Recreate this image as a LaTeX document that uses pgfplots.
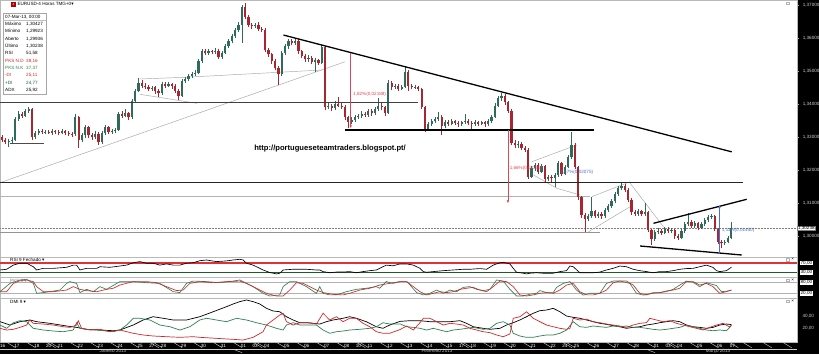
\documentclass[border=0pt]{standalone}
\usepackage{pgfplots}
\pgfplotsset{compat=1.18}
\usepackage{pgfplotstable}
\usepackage{fontspec}
\setmainfont{Liberation Sans}
\newfontfamily\dejavu{DejaVu Sans}
\usetikzlibrary{arrows.meta}
\definecolor{upc}{HTML}{2E6B5A}
\definecolor{dnc}{HTML}{A8262F}
\definecolor{rsired}{HTML}{E0303A}
\definecolor{dkgreen}{HTML}{1F5A2A}
\definecolor{stred}{HTML}{D0282E}
\definecolor{stgreen}{HTML}{2E8050}
\definecolor{arrred}{HTML}{D8485A}
\definecolor{arrblue}{HTML}{4A6FD0}
\newcommand{\ft}{\fontsize{4.6}{5}\selectfont}

\pgfplotstableread{
x o h l c
-2 1.3300 1.3306 1.3284 1.3290
-1 1.3290 1.3297 1.3278 1.3285
0 1.3285 1.3294 1.3270 1.3288
1 1.3288 1.3299 1.3282 1.3292
2 1.3292 1.3361 1.3288 1.3355
3 1.3355 1.3378 1.3348 1.3370
4 1.3370 1.3376 1.3358 1.3365
5 1.3365 1.3384 1.3360 1.3378
6 1.3378 1.3391 1.3372 1.3385
7 1.3385 1.3388 1.3291 1.3300
8 1.3300 1.3318 1.3294 1.3312
9 1.3312 1.3324 1.3306 1.3318
10 1.3318 1.3323 1.3308 1.3314
11 1.3314 1.3321 1.3309 1.3316
12 1.3316 1.3320 1.3310 1.3313
13 1.3313 1.3325 1.3307 1.3318
14 1.3318 1.3322 1.3309 1.3316
15 1.3316 1.3320 1.3305 1.3312
16 1.3312 1.3324 1.3308 1.3317
17 1.3317 1.3321 1.3306 1.3313
18 1.3313 1.3318 1.3303 1.3310
19 1.3310 1.3316 1.3300 1.3308
20 1.3308 1.3370 1.3304 1.3360
21 1.3360 1.3364 1.3267 1.3290
22 1.3290 1.3312 1.3284 1.3305
23 1.3305 1.3337 1.3298 1.3330
24 1.3330 1.3334 1.3297 1.3305
25 1.3305 1.3311 1.3292 1.3300
26 1.3300 1.3318 1.3293 1.3310
27 1.3310 1.3314 1.3276 1.3285
28 1.3285 1.3318 1.3280 1.3312
29 1.3312 1.3336 1.3306 1.3330
30 1.3330 1.3334 1.3308 1.3315
31 1.3315 1.3325 1.3310 1.3318
32 1.3318 1.3328 1.3312 1.3322
33 1.3322 1.3376 1.3318 1.3370
34 1.3370 1.3378 1.3358 1.3365
35 1.3365 1.3385 1.3360 1.3372
36 1.3372 1.3376 1.3352 1.3360
37 1.3360 1.3415 1.3355 1.3410
38 1.3410 1.3446 1.3404 1.3440
39 1.3440 1.3479 1.3435 1.3465
40 1.3465 1.3472 1.3448 1.3455
41 1.3455 1.3463 1.3444 1.3452
42 1.3452 1.3458 1.3438 1.3445
43 1.3445 1.3455 1.3440 1.3450
44 1.3450 1.3456 1.3430 1.3438
45 1.3438 1.3444 1.3422 1.3432
46 1.3432 1.3468 1.3428 1.3462
47 1.3462 1.3467 1.3449 1.3456
48 1.3456 1.3466 1.3450 1.3460
49 1.3460 1.3464 1.3446 1.3455
50 1.3455 1.3460 1.3434 1.3440
51 1.3440 1.3444 1.3412 1.3425
52 1.3425 1.3476 1.3420 1.3470
53 1.3470 1.3482 1.3463 1.3475
54 1.3475 1.3492 1.3470 1.3485
55 1.3485 1.3496 1.3479 1.3490
56 1.3490 1.3502 1.3486 1.3495
57 1.3495 1.3536 1.3490 1.3530
58 1.3530 1.3568 1.3524 1.3560
59 1.3560 1.3566 1.3548 1.3555
60 1.3555 1.3567 1.3549 1.3560
61 1.3560 1.3565 1.3551 1.3558
62 1.3558 1.3570 1.3552 1.3562
63 1.3562 1.3566 1.3536 1.3542
64 1.3542 1.3560 1.3537 1.3555
65 1.3555 1.3582 1.3550 1.3575
66 1.3575 1.3596 1.3570 1.3590
67 1.3590 1.3611 1.3584 1.3605
68 1.3605 1.3630 1.3600 1.3624
69 1.3624 1.3648 1.3618 1.3640
70 1.3640 1.3700 1.3585 1.3694
71 1.3694 1.3706 1.3658 1.3664
72 1.3664 1.3670 1.3634 1.3640
73 1.3640 1.3646 1.3628 1.3635
74 1.3635 1.3645 1.3630 1.3640
75 1.3640 1.3648 1.3622 1.3628
76 1.3628 1.3634 1.3618 1.3625
77 1.3625 1.3630 1.3558 1.3565
78 1.3565 1.3570 1.3543 1.3550
79 1.3550 1.3556 1.3522 1.3530
80 1.3530 1.3535 1.3502 1.3510
81 1.3510 1.3514 1.3458 1.3490
82 1.3490 1.3561 1.3485 1.3555
83 1.3555 1.3582 1.3549 1.3575
84 1.3575 1.3597 1.3568 1.3590
85 1.3590 1.3596 1.3578 1.3585
86 1.3585 1.3600 1.3580 1.3592
87 1.3592 1.3596 1.3553 1.3560
88 1.3560 1.3565 1.3538 1.3545
89 1.3545 1.3550 1.3527 1.3535
90 1.3535 1.3547 1.3528 1.3540
91 1.3540 1.3545 1.3520 1.3528
92 1.3528 1.3538 1.3497 1.3532
93 1.3532 1.3537 1.3518 1.3525
94 1.3525 1.3580 1.3520 1.3572
95 1.3572 1.3575 1.3383 1.3390
96 1.3390 1.3403 1.3384 1.3395
97 1.3395 1.3400 1.3380 1.3388
98 1.3388 1.3408 1.3382 1.3400
99 1.3400 1.3421 1.3390 1.3395
100 1.3395 1.3404 1.3385 1.3392
101 1.3392 1.3396 1.3352 1.3360
102 1.3360 1.3364 1.3327 1.3345
103 1.3345 1.3360 1.3338 1.3352
104 1.3352 1.3367 1.3346 1.3360
105 1.3360 1.3370 1.3356 1.3365
106 1.3365 1.3378 1.3358 1.3370
107 1.3370 1.3377 1.3360 1.3366
108 1.3366 1.3386 1.3360 1.3378
109 1.3378 1.3384 1.3365 1.3372
110 1.3372 1.3392 1.3368 1.3385
111 1.3385 1.3418 1.3380 1.3395
112 1.3395 1.3402 1.3383 1.3390
113 1.3390 1.3394 1.3365 1.3373
114 1.3373 1.3473 1.3370 1.3464
115 1.3464 1.3469 1.3443 1.3450
116 1.3450 1.3462 1.3444 1.3456
117 1.3456 1.3460 1.3440 1.3446
118 1.3446 1.3459 1.3441 1.3452
119 1.3452 1.3515 1.3448 1.3498
120 1.3498 1.3502 1.3440 1.3455
121 1.3455 1.3461 1.3444 1.3450
122 1.3450 1.3458 1.3445 1.3452
123 1.3452 1.3456 1.3438 1.3444
124 1.3444 1.3448 1.3384 1.3390
125 1.3390 1.3394 1.3315 1.3325
126 1.3325 1.3346 1.3320 1.3340
127 1.3340 1.3355 1.3334 1.3348
128 1.3348 1.3362 1.3342 1.3355
129 1.3355 1.3376 1.3350 1.3362
130 1.3362 1.3366 1.3306 1.3332
131 1.3332 1.3351 1.3326 1.3345
132 1.3345 1.3352 1.3334 1.3340
133 1.3340 1.3354 1.3335 1.3347
134 1.3347 1.3352 1.3336 1.3342
135 1.3342 1.3348 1.3331 1.3338
136 1.3338 1.3349 1.3334 1.3344
137 1.3344 1.3370 1.3339 1.3350
138 1.3350 1.3355 1.3335 1.3341
139 1.3341 1.3347 1.3321 1.3338
140 1.3338 1.3352 1.3332 1.3346
141 1.3346 1.3350 1.3333 1.3340
142 1.3340 1.3350 1.3335 1.3344
143 1.3344 1.3349 1.3330 1.3338
144 1.3338 1.3355 1.3333 1.3348
145 1.3348 1.3368 1.3343 1.3362
146 1.3362 1.3402 1.3357 1.3395
147 1.3395 1.3425 1.3390 1.3418
148 1.3418 1.3433 1.3410 1.3425
149 1.3425 1.3430 1.3398 1.3405
150 1.3405 1.3410 1.3372 1.3380
151 1.3380 1.3384 1.3276 1.3283
152 1.3283 1.3290 1.3268 1.3275
153 1.3275 1.3287 1.3268 1.3280
154 1.3280 1.3285 1.3261 1.3268
155 1.3268 1.3273 1.3255 1.3262
156 1.3262 1.3266 1.3174 1.3180
157 1.3180 1.3212 1.3175 1.3205
158 1.3205 1.3221 1.3198 1.3215
159 1.3215 1.3220 1.3188 1.3195
160 1.3195 1.3218 1.3190 1.3212
161 1.3212 1.3216 1.3165 1.3172
162 1.3172 1.3186 1.3166 1.3180
163 1.3180 1.3185 1.3160 1.3176
164 1.3176 1.3190 1.3148 1.3184
165 1.3184 1.3228 1.3180 1.3221
166 1.3221 1.3225 1.3182 1.3188
167 1.3188 1.3216 1.3184 1.3210
168 1.3210 1.3246 1.3205 1.3239
169 1.3239 1.3315 1.3234 1.3276
170 1.3276 1.3282 1.3202 1.3209
171 1.3209 1.3213 1.3110 1.3118
172 1.3118 1.3122 1.3056 1.3064
173 1.3064 1.3070 1.3012 1.3052
174 1.3052 1.3068 1.3045 1.3060
175 1.3060 1.3118 1.3055 1.3075
176 1.3075 1.3080 1.3055 1.3062
177 1.3062 1.3074 1.3056 1.3068
178 1.3068 1.3073 1.3052 1.3060
179 1.3060 1.3084 1.3055 1.3078
180 1.3078 1.3098 1.3072 1.3092
181 1.3092 1.3112 1.3086 1.3105
182 1.3105 1.3134 1.3100 1.3128
183 1.3128 1.3152 1.3122 1.3145
184 1.3145 1.3161 1.3140 1.3152
185 1.3152 1.3158 1.3133 1.3140
186 1.3140 1.3144 1.3103 1.3110
187 1.3110 1.3115 1.3065 1.3072
188 1.3072 1.3078 1.3060 1.3068
189 1.3068 1.3082 1.3062 1.3075
190 1.3075 1.3080 1.3060 1.3066
191 1.3066 1.3100 1.3062 1.3072
192 1.3072 1.3076 1.3012 1.3018
193 1.3018 1.3022 1.2973 1.2990
194 1.2990 1.3018 1.2985 1.3012
195 1.3012 1.3023 1.3006 1.3016
196 1.3016 1.3021 1.3003 1.3010
197 1.3010 1.3028 1.3005 1.3022
198 1.3022 1.3026 1.3009 1.3014
199 1.3014 1.3024 1.3008 1.3018
200 1.3018 1.3022 1.2992 1.3000
201 1.3000 1.3005 1.2988 1.2995
202 1.2995 1.3021 1.2990 1.3015
203 1.3015 1.3041 1.3010 1.3035
204 1.3035 1.3070 1.3030 1.3042
205 1.3042 1.3047 1.3024 1.3030
206 1.3030 1.3044 1.3024 1.3038
207 1.3038 1.3042 1.3018 1.3025
208 1.3025 1.3041 1.3020 1.3035
209 1.3035 1.3055 1.3030 1.3048
210 1.3048 1.3064 1.3043 1.3058
211 1.3058 1.3066 1.3052 1.3062
212 1.3062 1.3065 1.3014 1.3020
213 1.3020 1.3024 1.2975 1.2982
214 1.2982 1.2987 1.2964 1.2978
215 1.2978 1.2988 1.2972 1.2982
216 1.2982 1.3000 1.2978 1.2994
217 1.29936 1.30427 1.29923 1.30238
}\candles

\pgfplotsset{
  panel/.style={at={(0pt,#1pt)}, anchor=north west, scale only axis, width=797pt,
    xmin=-2.6, xmax=236.7, xtick=\empty,
    axis line style={draw=gray!55, line width=0.4pt},
    ytick pos=right, yticklabel pos=right,
    clip mode=individual},
}

\begin{document}
\begin{tikzpicture}[x=1pt,y=1pt]
\fill[white] (0,0) rectangle (819,354);
\fill[black] (0,0) rectangle (819,11.5);
\fill[black] (797,0) rectangle (819,354);
\useasboundingbox (0,0) rectangle (819,354);

% ---------------- price panel ----------------
\begin{axis}[panel=354, height=257.5pt,
  ymin=1.293485, ymax=1.371515,
  ytick={1.30,1.31,1.32,1.33,1.34,1.35,1.36,1.37},
  yticklabels={{1,30000},{1,31000},{1,32000},{1,33000},{1,34000},{1,35000},{1,36000},{1,37000}},
  minor y tick num=4, tick align=outside, major tick length=2pt, minor tick length=1.2pt,
  every tick/.style={draw=gray!70, line width=0.3pt},
  yticklabel style={font=\ft, text=gray!35, xshift=0.3pt}]
% light lines behind candles
\addplot[gray!65, line width=0.5pt] coordinates {(-2.6,1.31615) (101,1.3528)};
\addplot[gray!60, line width=0.5pt] coordinates {(-2.6,1.3119) (174.6,1.3119)};
\addplot[gray!85, line width=0.6pt] coordinates {(-2.6,1.3010) (177.6,1.3010)};
\addplot[gray, densely dotted, line width=0.5pt] coordinates {(-2.6,1.30238) (236.7,1.30238)};
\addplot[black!70, line width=0.5pt] coordinates {(0.5,1.3281) (10.5,1.3281)};
\addplot[gray!70, line width=0.45pt] coordinates {(39.4,1.34758) (52.9,1.34809)};
\addplot[gray!70, line width=0.45pt] coordinates {(39.4,1.34294) (56.5,1.34021)};
\addplot[gray!70, line width=0.45pt] coordinates {(52.9,1.34809) (94.0,1.35030)};
\addplot[gray!70, line width=0.45pt] coordinates {(157.1,1.32252) (170.6,1.32758)};
\addplot[gray!70, line width=0.45pt] coordinates {(157.6,1.31848) (164.6,1.31445) (171.6,1.31242)};
\addplot[gray!70, line width=0.45pt] coordinates {(174.1,1.30130) (186.6,1.30888)};
\addplot[gray!70, line width=0.45pt] coordinates {(175.1,1.31191) (186.6,1.31645)};
\addplot[gray!70, line width=0.45pt] coordinates {(186.6,1.31597) (196.6,1.30282)};
% candles
\addplot[dnc, line width=0.6pt, quiver={u=0,v=\thisrow{h}-\thisrow{l}},
  restrict expr to domain={\thisrow{c}-\thisrow{o}}{-1:0}] table[x=x,y=l]{\candles};
\addplot[upc, line width=0.6pt, quiver={u=0,v=\thisrow{h}-\thisrow{l}},
  restrict expr to domain={\thisrow{c}-\thisrow{o}}{0:1}] table[x=x,y=l]{\candles};
\addplot[dnc, line width=2.2pt, quiver={u=0,v=\thisrow{o}-\thisrow{c}},
  restrict expr to domain={\thisrow{c}-\thisrow{o}}{-1:0}] table[x=x,y=c]{\candles};
\addplot[upc, line width=2.2pt, quiver={u=0,v=\thisrow{c}-\thisrow{o}},
  restrict expr to domain={\thisrow{c}-\thisrow{o}}{0:1}] table[x=x,y=o]{\candles};
% heavy lines
\addplot[black!75, line width=0.7pt] coordinates {(-2.6,1.3404) (123,1.3404)};
\addplot[black, line width=1.3pt] coordinates {(82.5,1.3609) (217.1,1.3255)};
\addplot[black, line width=1.2pt] coordinates {(101,1.3321) (175.6,1.3321)};
\addplot[black!85, line width=1.2pt] coordinates {(-2.6,1.3162) (220.5,1.3162)};
\addplot[black, line width=1.3pt] coordinates {(193.6,1.30385) (221.6,1.31112)};
\addplot[black, line width=1.3pt] coordinates {(189.6,1.29697) (220.1,1.29424)};
% arrows
\addplot[arrred, line width=0.8pt, -{Latex[length=3pt,width=2.6pt]}] coordinates {(102.7,1.35536) (102.7,1.33264)};
\addplot[arrred, line width=0.8pt, -{Latex[length=3pt,width=2.6pt]}] coordinates {(149.9,1.33212) (149.9,1.30991)};
\addplot[arrblue, line width=0.8pt, -{Latex[length=3pt,width=2.6pt]}] coordinates {(213.4,1.29476) (213.4,1.30939)};
\node[anchor=west, font=\ft, text=arrred, inner sep=0pt] at (axis cs:103.4,1.3430) {1,82\%(0,02188)};
\node[anchor=west, font=\ft, text=arrred, inner sep=0pt] at (axis cs:150.4,1.3206) {1,66\%(0,02209)};
\node[anchor=west, font=\ft, text=arrblue, inner sep=0pt] at (axis cs:165.6,1.3192) {1,57\%(0,02075)};
\node[anchor=west, font=\ft, text=arrblue, inner sep=0pt] at (axis cs:214.1,1.3016) {1,11\%(0,01450)};
\node[font=\fontsize{7.6}{8}\selectfont\bfseries, inner sep=0pt] at (axis cs:96.5,1.3264) {http://portugueseteamtraders.blogspot.pt/};
\node[anchor=west, fill=white, draw=gray, font=\ft, text=black, inner sep=0.5pt] at (axis cs:236.8,1.30238) {1,30238};
\end{axis}

% ---------------- RSI ----------------
\begin{axis}[panel=96.5, height=20pt, ymin=7.6, ymax=93.7,
  ytick={30,70}, yticklabels={{30,00},{70,00}}, major tick length=0pt,
  yticklabel style={font=\ft, fill=white, text=black, inner sep=0.4pt, xshift=3pt}]
\addplot[rsired, line width=1.1pt] coordinates {(-2.6,70) (236.7,70)};
\addplot[dkgreen, line width=1pt] coordinates {(-2.6,30) (236.7,30)};
\addplot[black, line width=0.65pt] coordinates {(-2.6,40) (-0.6,43) (1.4,61) (3.4,69) (5.4,69) (7.4,54) (8.4,40) (10.4,47) (13.4,47) (17.4,51.5) (19.4,61) (20.4,61) (21.4,40) (23.4,47) (26.4,47) (27.4,54) (30.4,51.5) (33.4,57) (35.4,61) (37.4,71) (39.4,76) (41.4,69) (43.4,69) (45.4,61) (47.4,66) (49.4,61) (51.4,61) (53.4,69) (55.4,71) (57.4,80) (59.4,83) (62.4,76) (65.4,79) (67.4,83) (69.4,86) (70.4,83) (71.4,69) (73.4,61) (76.4,40) (78.4,29) (80.4,23) (81.4,26) (82.4,40) (85.4,43) (87.4,43) (89.4,43) (92.4,40) (93.4,40) (94.4,33) (96.4,28) (98.4,31) (100.4,31) (102.4,33) (104.4,28) (106.4,33) (108.4,37) (110.4,40) (112.4,54) (113.4,61) (115.4,58) (117.5,66) (119.5,66) (121.5,61) (123.5,47) (124.5,33) (125.5,30) (127.5,33) (130.5,37) (133.5,40) (136.5,43) (138.5,43) (141.5,46) (143.5,43) (145.5,61) (147.5,71) (148.5,73) (150.5,66) (151.5,47) (152.5,30) (154.5,26) (155.5,23) (156.5,26) (158.5,28) (160.5,26) (163.5,26) (165.5,33) (167.5,37) (168.5,57) (169.5,54) (171.5,28) (173.5,28) (175.5,28) (177.5,31) (179.5,40) (181.5,47) (183.5,57) (185.5,54) (187.5,43) (189.5,37) (191.5,33) (193.5,28) (195.5,33) (197.5,33) (199.5,37) (201.5,43) (203.5,46) (205.5,47) (207.5,54) (209.5,61) (211.5,51) (212.5,37) (213.5,33) (215.5,37) (216.5,47) (217,51.6)};
\end{axis}

% ---------------- Stochastic ----------------
\begin{axis}[panel=76.5, height=20.8pt, ymin=-7.8, ymax=107.8,
  ytick={20,80}, yticklabels={{20,00},{80,00}}, major tick length=0pt,
  yticklabel style={font=\ft, fill=white, text=black, inner sep=0.4pt, xshift=3pt}]
\addplot[gray!60, line width=0.5pt] coordinates {(-2.6,80) (236.7,80)};
\addplot[gray!60, line width=0.5pt] coordinates {(-2.6,20) (236.7,20)};
\addplot[stgreen, line width=0.65pt] coordinates {(-2.6,29) (0.4,75) (3.4,94) (5.4,98) (7.4,75) (8.4,20) (10.4,24) (15.4,38) (17.4,75) (18.4,85) (20.4,75) (21.4,24) (23.4,42) (25.4,29) (27.4,57) (29.4,42) (33.4,85) (37.4,85) (41.4,79) (45.4,75) (49.4,29) (51.4,24) (53.4,75) (55.4,88) (59.4,85) (63.4,79) (67.4,88) (69.4,94) (73.4,57) (76.4,20) (78.4,5) (81.4,11) (82.4,57) (84.4,85) (86.4,85) (89.4,57) (92.4,20) (93.4,57) (94.4,20) (96.4,11) (98.4,11) (101.4,29) (104.4,42) (107.4,48) (110.4,57) (111.4,48) (113.4,85) (115.4,75) (117.5,85) (119.5,85) (120.5,66) (122.5,24) (124.5,11) (126.5,20) (128.5,38) (130.5,20) (132.5,38) (134.5,29) (136.5,53) (138.5,57) (140.5,42) (142.5,35) (144.5,42) (146.5,94) (148.5,88) (150.5,42) (152.5,5) (154.5,5) (156.5,15) (158.5,20) (159.5,35) (161.5,24) (163.5,24) (164.5,53) (166.5,75) (168.5,85) (170.5,38) (172.5,10) (174.5,20) (177.5,20) (179.5,75) (181.5,88) (183.5,88) (186.5,75) (188.5,20) (190.5,10) (193.5,20) (195.5,24) (197.5,29) (199.5,42) (201.5,66) (203.5,88) (205.5,81) (207.5,57) (209.5,79) (212.5,63) (214,29) (216,33) (217,37.4)};
\addplot[stred, line width=0.65pt] coordinates {(-2.6,29) (-0.6,29) (1.4,75) (3.4,90) (5.4,94) (7.4,85) (8.4,57) (10.4,29) (13.4,29) (17.4,38) (19.4,57) (21.4,42) (23.4,35) (26.4,29) (29.4,42) (31.4,48) (33.4,66) (37.4,85) (41.4,85) (44.4,79) (47.4,57) (50.4,35) (52.4,38) (54.4,75) (57.4,85) (61.4,79) (65.4,85) (69.4,88) (71.4,75) (74.4,48) (77.4,20) (80.4,5) (82.4,5) (84.4,38) (86.4,79) (88.4,75) (90.4,57) (92.4,38) (94.4,24) (97.4,14) (100.4,11) (102.4,20) (105.4,38) (108.4,48) (111.4,66) (114.4,75) (117.5,85) (119.5,85) (121.5,57) (123.5,29) (125.5,11) (127.5,20) (129.5,29) (131.5,24) (133.5,29) (135.5,42) (137.5,48) (139.5,53) (141.5,38) (143.5,29) (145.5,57) (147.5,88) (149.5,85) (151.5,57) (153.5,11) (155.5,5) (157.5,11) (159.5,20) (161.5,24) (163.5,20) (165.5,38) (167.5,66) (169.5,75) (171.5,29) (173.5,11) (175.5,11) (177.5,20) (179.5,38) (181.5,79) (183.5,88) (185.5,88) (187.5,66) (189.5,20) (191.5,11) (193.5,24) (195.5,24) (197.5,33) (199.5,38) (201.5,48) (203.5,85) (205.5,85) (207.5,66) (209.5,75) (211.5,57) (213.5,20) (215.5,29) (217,38.2)};
\end{axis}

% ---------------- DMI ----------------
\begin{axis}[panel=55.7, height=44.2pt, ymin=-2.5, ymax=67.6,
  ytick={20,40}, yticklabels={{20,00},{40,00}}, major tick length=0pt,
  yticklabel style={font=\ft, text=gray!40, xshift=2pt},
  xtick={-1.8,2.5,8.5,12,15.5,21.5,27.5,33.5,39.5,43,46.5,52.5,58.5,64.5,70.5,74,77.5,83.5,89.5,95.5,101.5,105,108.5,114.5,120.5,126.5,132.5,136,139.5,145.5,151.5,157.5,163.5,167,170.5,176.5,182.5,188.5,194.5,198,201.5,207.5,213.5,217.3},
  xticklabels={16,17,18,20,21,22,23,24,25,27,28,29,30,31,01,03,04,05,06,07,08,10,11,12,13,14,15,17,18,19,20,21,22,24,25,26,27,28,01,03,04,05,06,07},
  xtick style={draw=none},
  xticklabel style={font=\ft, text=white, anchor=center, yshift=-3.6pt, inner sep=0pt}]
\addplot[black, line width=0.7pt] coordinates {(-2.6,30.5) (0.4,25.2) (3.4,30.5) (6.4,33.2) (8.4,30.5) (12.4,27.9) (17.4,23.7) (20.4,21.5) (23.4,18.4) (27.4,17.3) (31.4,16.2) (33.4,17.3) (37.4,25.2) (40.4,33.2) (43.4,38.4) (46.4,35.9) (49.4,33.2) (53.4,33.2) (57.4,38.4) (61.4,46.3) (65.4,54.3) (67.4,58.6) (69.4,62.3) (71.4,64.9) (73.4,62.3) (75.4,58.6) (77.4,51.7) (79.4,47.5) (81.4,46.3) (83.4,38.4) (85.4,33.2) (87.4,28.9) (89.4,28.9) (91.4,27.9) (93.4,26.8) (95.4,30.5) (97.4,33.2) (100.4,35.9) (102.4,38.4) (104.4,35.9) (107.4,30.5) (110.4,22.5) (112.4,20) (114.4,25.2) (117.5,31) (120.5,32.1) (123.5,32.1) (126.5,30.5) (129.5,30.5) (132.5,30.5) (135.5,32.1) (137.5,27.9) (139.5,22.5) (142.5,20) (144.5,18.4) (147.5,20) (149.5,25.2) (151.5,28.9) (153.5,33.2) (155.5,38.4) (157.5,43.8) (159.5,48) (161.5,49) (163.5,51.7) (165.5,46.3) (167.5,39.5) (169.5,37.4) (171.5,35.9) (173.5,33.2) (175.5,30.5) (177.5,27.9) (179.5,26.3) (181.5,24.2) (183.5,22.5) (185.5,20) (187.5,21.5) (189.5,22.5) (191.5,25.2) (193.5,26.8) (195.5,28.9) (197.5,30.5) (199.5,32.1) (201.5,30.5) (203.5,25.2) (205.5,22.5) (207.5,21.5) (209.5,20) (211.5,21.5) (213.5,25.2) (215.5,26.8) (217,25.9)};
\addplot[stgreen, line width=0.7pt] coordinates {(-2.6,25.2) (-0.6,20) (1.4,28.9) (3.4,32.1) (5.4,30.5) (7.4,20) (10.4,17.3) (13.4,15.7) (16.4,14.6) (19.4,17.3) (20.4,28.9) (21.4,20) (23.4,18.4) (26.4,17.3) (29.4,15.7) (31.4,14.6) (33.4,17.3) (35.4,25.2) (37.4,35.9) (39.4,35.9) (42.4,33.2) (45.4,25.2) (48.4,22.5) (51.4,17.3) (54.4,22.5) (57.4,33.2) (59.4,35.9) (62.4,33.2) (65.4,30.5) (68.4,35.9) (71.4,33.2) (74.4,28.9) (77.4,25.2) (80.4,20) (82.4,17.3) (83.4,25.2) (85.4,28.9) (87.4,25.2) (90.4,25.2) (92.4,25.2) (94.4,17.3) (96.4,12.1) (98.4,14.6) (100.4,15.7) (102.4,17.3) (105.4,18.4) (108.4,20) (110.4,22.5) (112.4,28.9) (114.4,26.8) (117.5,27) (119.5,22.5) (121.5,21.5) (123.5,20) (125.5,17.3) (127.5,20) (129.5,17.3) (131.5,14.6) (133.5,17.3) (135.5,18.4) (137.5,20) (139.5,21.5) (142.5,18.4) (144.5,20) (146.5,27.9) (148.5,30.5) (150.5,25.2) (151.5,12.1) (153.5,7.8) (155.5,5.7) (157.5,5.7) (159.5,7.8) (161.5,9.4) (163.5,9.4) (165.5,12.1) (167.5,17.3) (169.5,30.5) (171.5,22.5) (173.5,21.5) (175.5,23.7) (177.5,22.5) (179.5,21.5) (181.5,23.7) (183.5,22.5) (185.5,23.7) (187.5,21.5) (189.5,21.5) (191.5,20) (193.5,18.4) (195.5,17.3) (197.5,18.4) (199.5,20) (201.5,21.5) (203.5,25.2) (205.5,22.5) (207.5,20) (209.5,17.3) (211.5,16.2) (213.5,17.3) (215.5,16.2) (216.5,21.5) (217,24.8)};
\addplot[stred, line width=0.7pt] coordinates {(-2.6,20) (-0.6,17.3) (1.4,18.4) (3.4,21.5) (5.4,25.2) (6.4,33.2) (7.4,27.9) (10.4,26.8) (13.4,25.2) (16.4,22.5) (18.4,21.5) (20.4,25.2) (20.9,32.1) (21.9,20) (24.4,17.3) (27.4,18.4) (30.4,14.6) (33.4,17.3) (37.4,12.1) (40.4,9.4) (43.4,7.8) (47.4,6.7) (51.4,5.7) (55.4,6.7) (57.4,5.7) (62.4,4.1) (67.4,2.5) (70.4,1.4) (73.4,5.7) (76.4,14.6) (77.4,25.2) (79.4,33.2) (81.4,41.1) (82.4,43.8) (83.4,30.5) (85.4,25.2) (87.4,28.9) (90.4,28.9) (92.4,26.8) (94.4,43.8) (96.4,33.2) (98.4,38.4) (100.4,30.5) (102.4,35.9) (104.4,35.9) (106.4,27.9) (108.4,22.5) (110.4,14.6) (112.4,12.1) (114.4,12.1) (117.5,18) (119.5,23.7) (121.5,17.3) (123.5,28.9) (124.5,35.9) (126.5,35.9) (128.5,30.5) (130.5,25.2) (132.5,27.9) (134.5,26.8) (136.5,25.2) (138.5,20) (140.5,17.3) (142.5,14.6) (144.5,13.1) (146.5,9.4) (148.5,6.7) (150.5,11) (151.5,35.9) (153.5,38.4) (155.5,46.3) (157.5,35.9) (159.5,30.5) (161.5,25.2) (163.5,22.5) (165.5,20) (167.5,18.4) (168.5,20) (169.5,35.9) (171.5,33.2) (173.5,34.5) (175.5,30.5) (177.5,28.9) (179.5,26.8) (181.5,25.2) (183.5,23.7) (185.5,21.5) (187.5,25.2) (189.5,27.9) (191.5,28.9) (192.5,35.9) (194.5,33.2) (196.5,30.5) (198.5,32.1) (200.5,27.9) (202.5,25.2) (204.5,22.5) (206.5,20) (208.5,17.3) (210.5,21.5) (212.5,25.2) (214.5,27.9) (216.5,22) (217,25.1)};
\pgfplotsinvokeforeach{-0.5,5.5,11.5,12.5,18.5,24.5,30.5,36.5,42.5,43.5,49.5,55.5,61.5,67.5,73.5,74.5,80.5,86.5,92.5,98.5,104.5,105.5,111.5,117.5,123.5,129.5,135.5,136.5,142.5,148.5,154.5,160.5,166.5,167.5,173.5,179.5,185.5,191.5,197.5,198.5,204.5,210.5,216.5,220.5,226.5,232.5}{
  \draw[gray!35, line width=0.4pt] (axis cs:#1,-2.5) -- ++(0,-6.8pt);
}
\draw[gray!35, line width=0.4pt] ([yshift=-6.8pt]axis cs:67.5,-2.5) -- ++(0,-5pt);
\draw[gray!35, line width=0.4pt] ([yshift=-6.8pt]axis cs:191.5,-2.5) -- ++(0,-5pt);
\draw[gray!35, line width=0.4pt] ([yshift=-6.8pt]axis cs:-2.6,-2.5) -- ([yshift=-6.8pt]axis cs:236.7,-2.5);
\end{axis}

% month labels
\node[font=\ft, text=gray!45, inner sep=0pt] at (113,2.8) {Janeiro 2013};
\node[font=\ft, text=gray!45, inner sep=0pt] at (437,2.8) {Fevereiro 2013};
\node[font=\ft, text=gray!45, inner sep=0pt] at (718,2.8) {Março 2013};

% title
\fill[red!70!black] (10.7,347.3) rectangle (16,352.3);
\node[font=\ft, text=white, inner sep=0pt] at (13.35,349.8) {\fontsize{3}{3}\selectfont 4};
\node[anchor=west, font=\ft, inner sep=0pt] at (17.3,350) {EURUSD-4 Horas TMG+0{\dejavu ▾}};

% panel labels
\node[anchor=west, font=\ft, inner sep=0pt] at (10,94) {RSI 9 Fechado {\dejavu ▾}};
\node[anchor=west, font=\ft, inner sep=0pt, text=gray] at (10,73.5) {PKS 9 {\dejavu ▾}};
\node[anchor=west, font=\ft, inner sep=0pt] at (10,52) {DMI 9 {\dejavu ▾}};

% small window icons
\foreach \yy in {94.5,74,53} {
  \draw[gray!60, line width=0.3pt] (786.5,\yy-1.3) rectangle ++(2.6,2.6);
  \node[font=\ft, inner sep=0pt] at (792.8,\yy) {×};
}
\draw[gray!60, line width=0.3pt] (786.5,349.5) rectangle ++(2.6,2.6);

% info box
\draw[gray!70, fill=white, line width=0.4pt] (2.7,340.7) rectangle (45.7,260);
\draw[gray!50, line width=0.3pt] (2.7,333.6) -- (45.7,333.6);
\begin{scope}[every node/.style={font=\ft, inner sep=0pt, anchor=west}]
\node at (5,337.3) {07-Mar-13, 00:00};
\node at (5,330) {Máximo};   \node at (26,330) {1,30427};
\node at (5,322.7) {Mínimo}; \node at (26,322.7) {1,29923};
\node at (5,315.3) {Aberto}; \node at (26,315.3) {1,29936};
\node at (5,308) {Último};   \node at (26,308) {1,30238};
\node at (5,300.7) {RSI};    \node at (26,300.7) {51,58};
\node[text=stred] at (5,293.3) {PKS N.D}; \node[text=stred] at (26,293.3) {38,16};
\node[text=stgreen] at (5,286) {PKS N.K}; \node[text=stgreen] at (26,286) {37,37};
\node[text=stred] at (5,278.7) {-DI};     \node[text=stred] at (26,278.7) {25,11};
\node[text=dkgreen] at (5,271.3) {+DI};   \node[text=dkgreen] at (26,271.3) {24,77};
\node at (5,264) {ADX};      \node at (26,264) {25,92};
\end{scope}
\end{tikzpicture}
\end{document}
